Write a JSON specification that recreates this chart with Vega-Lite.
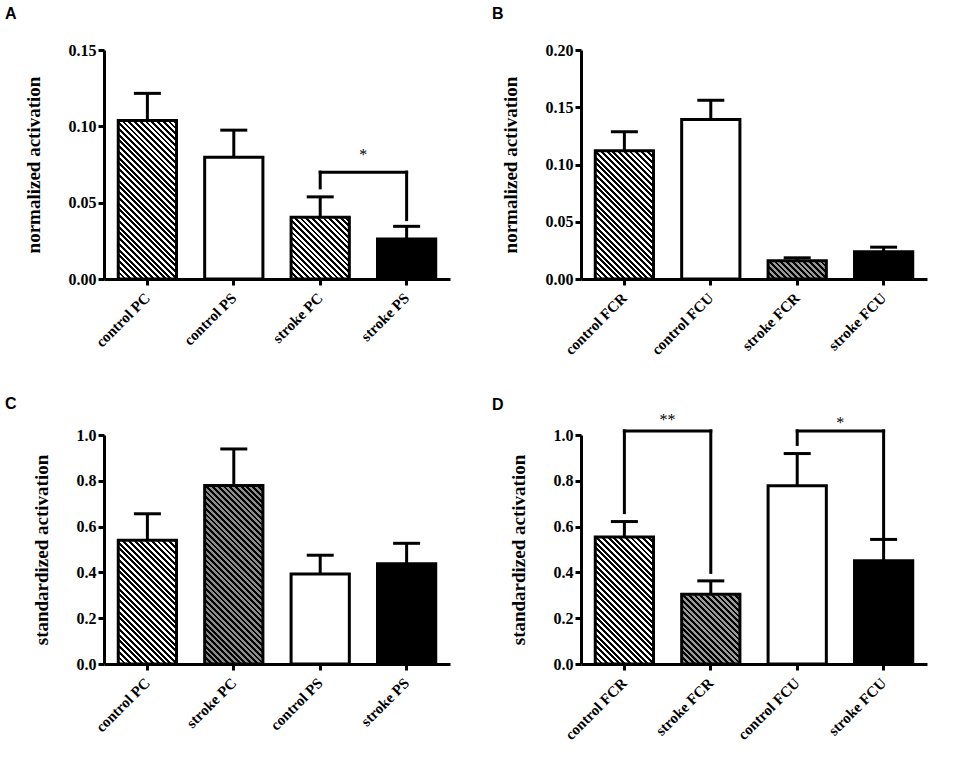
{
  "$schema": "https://vega.github.io/schema/vega-lite/v6.json",
  "background": "white",
  "padding": {"left": 5, "top": 6, "right": 5, "bottom": 5},
  "params": [
    {
      "name": "hbw",
      "value": {
        "gradient": "linear", "x1": 0, "y1": 1, "x2": 0.2997, "y2": -0.1782,
        "stops": [
          {"offset":0,"color":"#000"},{"offset":0.01,"color":"#000"},{"offset":0.01,"color":"#fff"},{"offset":0.02,"color":"#fff"},{"offset":0.02,"color":"#000"},{"offset":0.03,"color":"#000"},{"offset":0.03,"color":"#fff"},{"offset":0.04,"color":"#fff"},{"offset":0.04,"color":"#000"},{"offset":0.05,"color":"#000"},{"offset":0.05,"color":"#fff"},{"offset":0.06,"color":"#fff"},{"offset":0.06,"color":"#000"},{"offset":0.07,"color":"#000"},{"offset":0.07,"color":"#fff"},{"offset":0.08,"color":"#fff"},{"offset":0.08,"color":"#000"},{"offset":0.09,"color":"#000"},{"offset":0.09,"color":"#fff"},{"offset":0.10,"color":"#fff"},
          {"offset":0.10,"color":"#000"},{"offset":0.11,"color":"#000"},{"offset":0.11,"color":"#fff"},{"offset":0.12,"color":"#fff"},{"offset":0.12,"color":"#000"},{"offset":0.13,"color":"#000"},{"offset":0.13,"color":"#fff"},{"offset":0.14,"color":"#fff"},{"offset":0.14,"color":"#000"},{"offset":0.15,"color":"#000"},{"offset":0.15,"color":"#fff"},{"offset":0.16,"color":"#fff"},{"offset":0.16,"color":"#000"},{"offset":0.17,"color":"#000"},{"offset":0.17,"color":"#fff"},{"offset":0.18,"color":"#fff"},{"offset":0.18,"color":"#000"},{"offset":0.19,"color":"#000"},{"offset":0.19,"color":"#fff"},{"offset":0.20,"color":"#fff"},
          {"offset":0.20,"color":"#000"},{"offset":0.21,"color":"#000"},{"offset":0.21,"color":"#fff"},{"offset":0.22,"color":"#fff"},{"offset":0.22,"color":"#000"},{"offset":0.23,"color":"#000"},{"offset":0.23,"color":"#fff"},{"offset":0.24,"color":"#fff"},{"offset":0.24,"color":"#000"},{"offset":0.25,"color":"#000"},{"offset":0.25,"color":"#fff"},{"offset":0.26,"color":"#fff"},{"offset":0.26,"color":"#000"},{"offset":0.27,"color":"#000"},{"offset":0.27,"color":"#fff"},{"offset":0.28,"color":"#fff"},{"offset":0.28,"color":"#000"},{"offset":0.29,"color":"#000"},{"offset":0.29,"color":"#fff"},{"offset":0.30,"color":"#fff"},
          {"offset":0.30,"color":"#000"},{"offset":0.31,"color":"#000"},{"offset":0.31,"color":"#fff"},{"offset":0.32,"color":"#fff"},{"offset":0.32,"color":"#000"},{"offset":0.33,"color":"#000"},{"offset":0.33,"color":"#fff"},{"offset":0.34,"color":"#fff"},{"offset":0.34,"color":"#000"},{"offset":0.35,"color":"#000"},{"offset":0.35,"color":"#fff"},{"offset":0.36,"color":"#fff"},{"offset":0.36,"color":"#000"},{"offset":0.37,"color":"#000"},{"offset":0.37,"color":"#fff"},{"offset":0.38,"color":"#fff"},{"offset":0.38,"color":"#000"},{"offset":0.39,"color":"#000"},{"offset":0.39,"color":"#fff"},{"offset":0.40,"color":"#fff"},
          {"offset":0.40,"color":"#000"},{"offset":0.41,"color":"#000"},{"offset":0.41,"color":"#fff"},{"offset":0.42,"color":"#fff"},{"offset":0.42,"color":"#000"},{"offset":0.43,"color":"#000"},{"offset":0.43,"color":"#fff"},{"offset":0.44,"color":"#fff"},{"offset":0.44,"color":"#000"},{"offset":0.45,"color":"#000"},{"offset":0.45,"color":"#fff"},{"offset":0.46,"color":"#fff"},{"offset":0.46,"color":"#000"},{"offset":0.47,"color":"#000"},{"offset":0.47,"color":"#fff"},{"offset":0.48,"color":"#fff"},{"offset":0.48,"color":"#000"},{"offset":0.49,"color":"#000"},{"offset":0.49,"color":"#fff"},{"offset":0.50,"color":"#fff"},
          {"offset":0.50,"color":"#000"},{"offset":0.51,"color":"#000"},{"offset":0.51,"color":"#fff"},{"offset":0.52,"color":"#fff"},{"offset":0.52,"color":"#000"},{"offset":0.53,"color":"#000"},{"offset":0.53,"color":"#fff"},{"offset":0.54,"color":"#fff"},{"offset":0.54,"color":"#000"},{"offset":0.55,"color":"#000"},{"offset":0.55,"color":"#fff"},{"offset":0.56,"color":"#fff"},{"offset":0.56,"color":"#000"},{"offset":0.57,"color":"#000"},{"offset":0.57,"color":"#fff"},{"offset":0.58,"color":"#fff"},{"offset":0.58,"color":"#000"},{"offset":0.59,"color":"#000"},{"offset":0.59,"color":"#fff"},{"offset":0.60,"color":"#fff"},
          {"offset":0.60,"color":"#000"},{"offset":0.61,"color":"#000"},{"offset":0.61,"color":"#fff"},{"offset":0.62,"color":"#fff"},{"offset":0.62,"color":"#000"},{"offset":0.63,"color":"#000"},{"offset":0.63,"color":"#fff"},{"offset":0.64,"color":"#fff"},{"offset":0.64,"color":"#000"},{"offset":0.65,"color":"#000"},{"offset":0.65,"color":"#fff"},{"offset":0.66,"color":"#fff"},{"offset":0.66,"color":"#000"},{"offset":0.67,"color":"#000"},{"offset":0.67,"color":"#fff"},{"offset":0.68,"color":"#fff"},{"offset":0.68,"color":"#000"},{"offset":0.69,"color":"#000"},{"offset":0.69,"color":"#fff"},{"offset":0.70,"color":"#fff"},
          {"offset":0.70,"color":"#000"},{"offset":0.71,"color":"#000"},{"offset":0.71,"color":"#fff"},{"offset":0.72,"color":"#fff"},{"offset":0.72,"color":"#000"},{"offset":0.73,"color":"#000"},{"offset":0.73,"color":"#fff"},{"offset":0.74,"color":"#fff"},{"offset":0.74,"color":"#000"},{"offset":0.75,"color":"#000"},{"offset":0.75,"color":"#fff"},{"offset":0.76,"color":"#fff"},{"offset":0.76,"color":"#000"},{"offset":0.77,"color":"#000"},{"offset":0.77,"color":"#fff"},{"offset":0.78,"color":"#fff"},{"offset":0.78,"color":"#000"},{"offset":0.79,"color":"#000"},{"offset":0.79,"color":"#fff"},{"offset":0.80,"color":"#fff"},
          {"offset":0.80,"color":"#000"},{"offset":0.81,"color":"#000"},{"offset":0.81,"color":"#fff"},{"offset":0.82,"color":"#fff"},{"offset":0.82,"color":"#000"},{"offset":0.83,"color":"#000"},{"offset":0.83,"color":"#fff"},{"offset":0.84,"color":"#fff"},{"offset":0.84,"color":"#000"},{"offset":0.85,"color":"#000"},{"offset":0.85,"color":"#fff"},{"offset":0.86,"color":"#fff"},{"offset":0.86,"color":"#000"},{"offset":0.87,"color":"#000"},{"offset":0.87,"color":"#fff"},{"offset":0.88,"color":"#fff"},{"offset":0.88,"color":"#000"},{"offset":0.89,"color":"#000"},{"offset":0.89,"color":"#fff"},{"offset":0.90,"color":"#fff"},
          {"offset":0.90,"color":"#000"},{"offset":0.91,"color":"#000"},{"offset":0.91,"color":"#fff"},{"offset":0.92,"color":"#fff"},{"offset":0.92,"color":"#000"},{"offset":0.93,"color":"#000"},{"offset":0.93,"color":"#fff"},{"offset":0.94,"color":"#fff"},{"offset":0.94,"color":"#000"},{"offset":0.95,"color":"#000"},{"offset":0.95,"color":"#fff"},{"offset":0.96,"color":"#fff"},{"offset":0.96,"color":"#000"},{"offset":0.97,"color":"#000"},{"offset":0.97,"color":"#fff"},{"offset":0.98,"color":"#fff"},{"offset":0.98,"color":"#000"},{"offset":0.99,"color":"#000"},{"offset":0.99,"color":"#fff"},{"offset":1,"color":"#fff"}
        ]
      }
    }
  ],
  "datasets": {
    "A": [
      {"label": "control PC", "mean": 0.1039, "upper": 0.1216},
      {"label": "control PS", "mean": 0.0798, "upper": 0.0975},
      {"label": "stroke PC", "mean": 0.0404, "upper": 0.0538},
      {"label": "stroke PS", "mean": 0.0262, "upper": 0.0345}
    ],
    "B": [
      {"label": "control FCR", "mean": 0.1119, "upper": 0.1286},
      {"label": "control FCU", "mean": 0.1393, "upper": 0.1561},
      {"label": "stroke FCR", "mean": 0.0159, "upper": 0.0185},
      {"label": "stroke FCU", "mean": 0.0237, "upper": 0.0278}
    ],
    "C": [
      {"label": "control PC", "mean": 0.540, "upper": 0.656},
      {"label": "stroke PC", "mean": 0.780, "upper": 0.939},
      {"label": "control PS", "mean": 0.393, "upper": 0.475},
      {"label": "stroke PS", "mean": 0.438, "upper": 0.527}
    ],
    "D": [
      {"label": "control FCR", "mean": 0.555, "upper": 0.622},
      {"label": "stroke FCR", "mean": 0.305, "upper": 0.363},
      {"label": "control FCU", "mean": 0.778, "upper": 0.919},
      {"label": "stroke FCU", "mean": 0.451, "upper": 0.544}
    ],
    "sigA": [
      {"from": "stroke PC", "to": "stroke PS", "y": 0.070, "yl": 0.0597, "yr": 0.0389, "ys": 0.0837, "star": "*"}
    ],
    "sigD": [
      {"from": "control FCR", "to": "stroke FCR", "y": 1.018, "yl": 0.661, "yr": 0.40, "ys": 1.084, "star": "**"},
      {"from": "control FCU", "to": "stroke FCU", "y": 1.018, "yl": 0.959, "yr": 0.545, "ys": 1.072, "star": "*"}
    ]
  },
  "vconcat": [
    {
      "hconcat": [
        {
          "width": 346, "height": 229,
          "title": {"text": "A", "dx": -99, "offset": 20},
          "data": {"name": "A"},
          "encoding": {
            "x": {"field": "label", "type": "nominal", "sort": null, "title": null,
                  "scale": {"domain": ["control PC", "control PS", "stroke PC", "stroke PS"], "paddingInner": 0.326, "paddingOuter": 0.165}}
          },
          "layer": [
            {
              "transform": [{"filter": {"field": "label", "oneOf": ["control PC", "stroke PC"]}}],
              "mark": {"type": "bar", "fill": {"expr": "hbw"}},
              "encoding": {"y": {"datum": 0.15, "type": "quantitative", "title": "normalized activation", "scale": {"domain": [0, 0.15], "nice": false}}}
            },
            {
              "mark": {"type": "bar", "fill": "white", "stroke": "white", "strokeWidth": 2},
              "encoding": {"y": {"field": "mean", "type": "quantitative", "title": "normalized activation"}, "y2": {"datum": 0.15}}
            },
            {
              "mark": {"type": "bar", "stroke": "black", "strokeWidth": 3},
              "encoding": {
                "y": {"field": "mean", "type": "quantitative", "title": "normalized activation", "axis": {"values": [0, 0.05, 0.1, 0.15], "format": ".2f"}},
                "fill": {"condition": {"test": "datum.label == 'stroke PS'", "value": "black"}, "value": "transparent"}
              }
            },
            {
              "mark": {"type": "rule", "strokeWidth": 3, "color": "black"},
              "encoding": {"y": {"field": "mean", "type": "quantitative", "title": "normalized activation"}, "y2": {"field": "upper"}}
            },
            {
              "mark": {"type": "tick", "size": 27, "thickness": 3, "color": "black", "opacity": 1},
              "encoding": {"y": {"field": "upper", "type": "quantitative", "title": "normalized activation"}}
            },
            {
              "data": {"name": "sigA"},
              "layer": [
                {"mark": {"type": "rule", "strokeWidth": 3, "color": "black", "strokeCap": "square"},
                 "encoding": {"x": {"field": "from", "type": "nominal", "title": null}, "x2": {"field": "to"}, "y": {"field": "y", "type": "quantitative", "title": "normalized activation"}}},
                {"mark": {"type": "rule", "strokeWidth": 3, "color": "black", "strokeCap": "square"},
                 "encoding": {"x": {"field": "from", "type": "nominal", "title": null}, "y": {"field": "y", "type": "quantitative", "title": "normalized activation"}, "y2": {"field": "yl"}}},
                {"mark": {"type": "rule", "strokeWidth": 3, "color": "black", "strokeCap": "square"},
                 "encoding": {"x": {"field": "to", "type": "nominal", "title": null}, "y": {"field": "y", "type": "quantitative", "title": "normalized activation"}, "y2": {"field": "yr"}}},
                {"mark": {"type": "text", "dx": 43, "dy": 4, "fontSize": 16, "font": "Liberation Serif", "baseline": "middle", "color": "black"},
                 "encoding": {"x": {"field": "from", "type": "nominal", "title": null}, "y": {"field": "ys", "type": "quantitative", "title": "normalized activation"}, "text": {"field": "star"}}}
              ]
            }
          ]
        },
        {
          "width": 346, "height": 229,
          "title": {"text": "B", "dx": -89, "offset": 20},
          "data": {"name": "B"},
          "encoding": {
            "x": {"field": "label", "type": "nominal", "sort": null, "title": null,
                  "scale": {"domain": ["control FCR", "control FCU", "stroke FCR", "stroke FCU"], "paddingInner": 0.326, "paddingOuter": 0.165}}
          },
          "layer": [
            {
              "transform": [{"filter": {"field": "label", "oneOf": ["control FCR", "stroke FCR"]}}],
              "mark": {"type": "bar", "fill": "black"},
              "encoding": {"y": {"datum": 0.2, "type": "quantitative", "title": "normalized activation", "scale": {"domain": [0, 0.2], "nice": false}}}
            },
            {
              "transform": [{"filter": {"field": "label", "oneOf": ["control FCR", "stroke FCR"]}}],
              "mark": {"type": "bar", "fill": {"expr": "hbw"}},
              "encoding": {
                "y": {"datum": 0.2, "type": "quantitative", "title": "normalized activation"},
                "fillOpacity": {"condition": {"test": "datum.label == 'stroke FCR'", "value": 0.6}, "value": 1}
              }
            },
            {
              "mark": {"type": "bar", "fill": "white", "stroke": "white", "strokeWidth": 2},
              "encoding": {"y": {"field": "mean", "type": "quantitative", "title": "normalized activation"}, "y2": {"datum": 0.2}}
            },
            {
              "mark": {"type": "bar", "stroke": "black", "strokeWidth": 3},
              "encoding": {
                "y": {"field": "mean", "type": "quantitative", "title": "normalized activation", "axis": {"values": [0, 0.05, 0.1, 0.15, 0.2], "format": ".2f"}},
                "fill": {"condition": {"test": "datum.label == 'stroke FCU'", "value": "black"}, "value": "transparent"}
              }
            },
            {
              "mark": {"type": "rule", "strokeWidth": 3, "color": "black"},
              "encoding": {"y": {"field": "mean", "type": "quantitative", "title": "normalized activation"}, "y2": {"field": "upper"}}
            },
            {
              "mark": {"type": "tick", "size": 27, "thickness": 3, "color": "black", "opacity": 1},
              "encoding": {"y": {"field": "upper", "type": "quantitative", "title": "normalized activation"}}
            }
          ]
        }
      ],
      "spacing": 42
    },
    {
      "hconcat": [
        {
          "width": 346, "height": 229,
          "title": {"text": "C", "dx": -99, "offset": 15},
          "data": {"name": "C"},
          "encoding": {
            "x": {"field": "label", "type": "nominal", "sort": null, "title": null,
                  "scale": {"domain": ["control PC", "stroke PC", "control PS", "stroke PS"], "paddingInner": 0.326, "paddingOuter": 0.165}}
          },
          "layer": [
            {
              "transform": [{"filter": {"field": "label", "oneOf": ["control PC", "stroke PC"]}}],
              "mark": {"type": "bar", "fill": "black"},
              "encoding": {"y": {"datum": 1, "type": "quantitative", "title": "standardized activation", "scale": {"domain": [0, 1], "nice": false}}}
            },
            {
              "transform": [{"filter": {"field": "label", "oneOf": ["control PC", "stroke PC"]}}],
              "mark": {"type": "bar", "fill": {"expr": "hbw"}},
              "encoding": {
                "y": {"datum": 1, "type": "quantitative", "title": "standardized activation"},
                "fillOpacity": {"condition": {"test": "datum.label == 'stroke PC'", "value": 0.55}, "value": 1}
              }
            },
            {
              "mark": {"type": "bar", "fill": "white", "stroke": "white", "strokeWidth": 2},
              "encoding": {"y": {"field": "mean", "type": "quantitative", "title": "standardized activation"}, "y2": {"datum": 1}}
            },
            {
              "mark": {"type": "bar", "stroke": "black", "strokeWidth": 3},
              "encoding": {
                "y": {"field": "mean", "type": "quantitative", "title": "standardized activation", "axis": {"values": [0, 0.2, 0.4, 0.6, 0.8, 1], "format": ".1f"}},
                "fill": {"condition": {"test": "datum.label == 'stroke PS'", "value": "black"}, "value": "transparent"}
              }
            },
            {
              "mark": {"type": "rule", "strokeWidth": 3, "color": "black"},
              "encoding": {"y": {"field": "mean", "type": "quantitative", "title": "standardized activation"}, "y2": {"field": "upper"}}
            },
            {
              "mark": {"type": "tick", "size": 27, "thickness": 3, "color": "black", "opacity": 1},
              "encoding": {"y": {"field": "upper", "type": "quantitative", "title": "standardized activation"}}
            }
          ]
        },
        {
          "width": 346, "height": 229,
          "title": {"text": "D", "dx": -89, "offset": -1},
          "data": {"name": "D"},
          "encoding": {
            "x": {"field": "label", "type": "nominal", "sort": null, "title": null,
                  "scale": {"domain": ["control FCR", "stroke FCR", "control FCU", "stroke FCU"], "paddingInner": 0.326, "paddingOuter": 0.165}}
          },
          "layer": [
            {
              "transform": [{"filter": {"field": "label", "oneOf": ["control FCR", "stroke FCR"]}}],
              "mark": {"type": "bar", "fill": "black"},
              "encoding": {"y": {"datum": 1, "type": "quantitative", "title": "standardized activation", "scale": {"domain": [0, 1], "nice": false}}}
            },
            {
              "transform": [{"filter": {"field": "label", "oneOf": ["control FCR", "stroke FCR"]}}],
              "mark": {"type": "bar", "fill": {"expr": "hbw"}},
              "encoding": {
                "y": {"datum": 1, "type": "quantitative", "title": "standardized activation"},
                "fillOpacity": {"condition": {"test": "datum.label == 'stroke FCR'", "value": 0.6}, "value": 1}
              }
            },
            {
              "mark": {"type": "bar", "fill": "white", "stroke": "white", "strokeWidth": 2},
              "encoding": {"y": {"field": "mean", "type": "quantitative", "title": "standardized activation"}, "y2": {"datum": 1}}
            },
            {
              "mark": {"type": "bar", "stroke": "black", "strokeWidth": 3},
              "encoding": {
                "y": {"field": "mean", "type": "quantitative", "title": "standardized activation", "axis": {"values": [0, 0.2, 0.4, 0.6, 0.8, 1], "format": ".1f"}},
                "fill": {"condition": {"test": "datum.label == 'stroke FCU'", "value": "black"}, "value": "transparent"}
              }
            },
            {
              "mark": {"type": "rule", "strokeWidth": 3, "color": "black"},
              "encoding": {"y": {"field": "mean", "type": "quantitative", "title": "standardized activation"}, "y2": {"field": "upper"}}
            },
            {
              "mark": {"type": "tick", "size": 27, "thickness": 3, "color": "black", "opacity": 1},
              "encoding": {"y": {"field": "upper", "type": "quantitative", "title": "standardized activation"}}
            },
            {
              "data": {"name": "sigD"},
              "layer": [
                {"mark": {"type": "rule", "strokeWidth": 3, "color": "black", "strokeCap": "square"},
                 "encoding": {"x": {"field": "from", "type": "nominal", "title": null}, "x2": {"field": "to"}, "y": {"field": "y", "type": "quantitative", "title": "standardized activation"}}},
                {"mark": {"type": "rule", "strokeWidth": 3, "color": "black", "strokeCap": "square"},
                 "encoding": {"x": {"field": "from", "type": "nominal", "title": null}, "y": {"field": "y", "type": "quantitative", "title": "standardized activation"}, "y2": {"field": "yl"}}},
                {"mark": {"type": "rule", "strokeWidth": 3, "color": "black", "strokeCap": "square"},
                 "encoding": {"x": {"field": "to", "type": "nominal", "title": null}, "y": {"field": "y", "type": "quantitative", "title": "standardized activation"}, "y2": {"field": "yr"}}},
                {"mark": {"type": "text", "dx": 43, "dy": 4, "fontSize": 16, "font": "Liberation Serif", "baseline": "middle", "color": "black"},
                 "encoding": {"x": {"field": "from", "type": "nominal", "title": null}, "y": {"field": "ys", "type": "quantitative", "title": "standardized activation"}, "text": {"field": "star"}}}
              ]
            }
          ]
        }
      ],
      "spacing": 42
    }
  ],
  "spacing": 38,
  "config": {
    "view": {"stroke": null},
    "axis": {
      "grid": false,
      "domainColor": "black", "domainWidth": 3,
      "tickColor": "black", "tickWidth": 3, "tickSize": 6,
      "labelColor": "black", "labelFont": "Liberation Serif", "labelFontWeight": "bold",
      "titleColor": "black", "titleFont": "Liberation Serif", "titleFontWeight": "bold"
    },
    "axisX": {"labelAngle": -45, "labelAlign": "right", "labelBaseline": "middle", "labelFontSize": 15, "labelPadding": 10},
    "axisY": {"labelFontSize": 16, "labelPadding": 2, "titleFontSize": 19, "titlePadding": 25},
    "title": {"font": "Liberation Sans", "fontSize": 16, "fontWeight": "bold", "color": "black", "anchor": "start", "frame": "group"}
  }
}
